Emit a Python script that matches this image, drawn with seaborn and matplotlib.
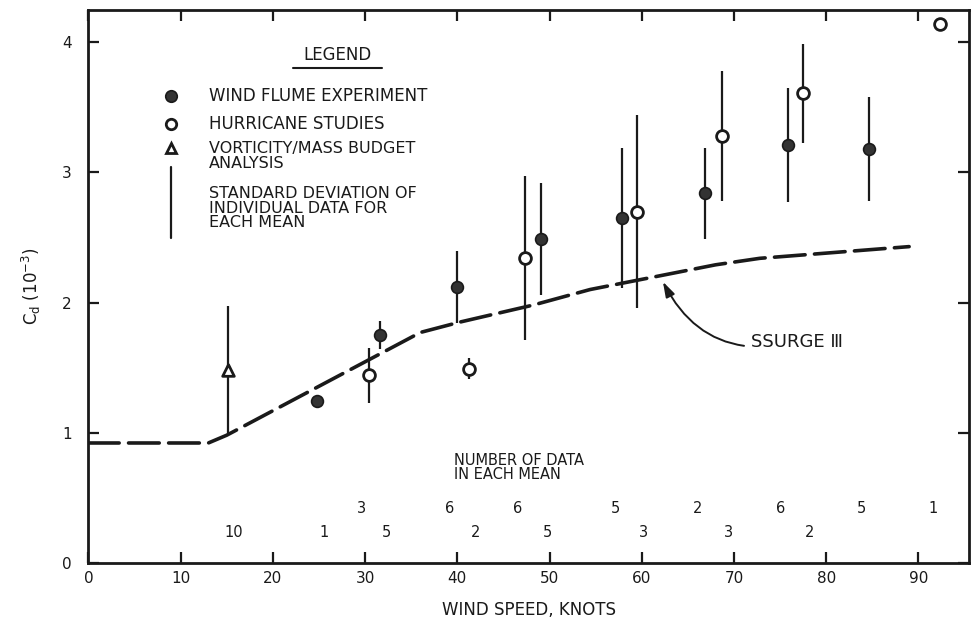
import numpy as np
import pandas as pd
import matplotlib
matplotlib.use("Agg")
import matplotlib.pyplot as plt
import seaborn as sns

# Mean drag coefficient per wind-speed bin
wind_speed = [15.1, 24.8, 30.4, 31.6, 40.0, 41.3, 47.3, 49.1,
              57.9, 59.5, 66.9, 68.7, 75.9, 77.5, 84.6, 92.4]
cd_mean = [1.48, 1.24, 1.44, 1.75, 2.12, 1.49, 2.34, 2.49,
           2.65, 2.70, 2.84, 3.28, 3.21, 3.61, 3.18, 4.14]
cd_std = [0.49, 0.0, 0.21, 0.11, 0.28, 0.08, 0.63, 0.43,
          0.54, 0.74, 0.35, 0.50, 0.44, 0.38, 0.40, 0.0]
n_data = [10, 1, 3, 5, 6, 2, 6, 5, 5, 3, 2, 3, 6, 2, 5, 1]
source = ["vorticity", "flume", "hurricane", "flume", "flume", "hurricane",
          "hurricane", "flume", "flume", "hurricane", "flume", "hurricane",
          "flume", "hurricane", "flume", "hurricane"]
count_row = ["low", "low", "up", "low", "up", "low", "up", "low",
             "up", "low", "up", "low", "up", "low", "up", "up"]

# SSURGE III drag-coefficient formulation
ssurge_speed = [0, 13, 15, 36, 40.3, 48.2, 54.4, 58.7, 68, 72.8, 80, 89]
ssurge_cd = [0.92, 0.92, 0.98, 1.77, 1.85, 1.98, 2.10, 2.16, 2.29, 2.34, 2.38, 2.43]

x_ticks = [0, 10, 20, 30, 40, 50, 60, 70, 80, 90]
y_ticks = [0, 1, 2, 3, 4]

df = pd.DataFrame({"wind": wind_speed, "cd": cd_mean, "sd": cd_std,
                   "n": n_data, "source": source, "row": count_row})

sns.set_theme(style="ticks")
plt.rcParams["font.family"] = ["DejaVu Sans"]
plt.rcParams["mathtext.fontset"] = "dejavusans"

fig, ax = plt.subplots(figsize=(9.71, 6.21), dpi=100)
fig.subplots_adjust(left=0.0911, right=0.998, bottom=0.094, top=0.984)

ink = "#1a1a1a"

# SSURGE III curve
sns.lineplot(x=ssurge_speed, y=ssurge_cd, ax=ax, color=ink, lw=2.6,
             linestyle=(0, (8.5, 2.6)), dash_capstyle="round",
             sort=False, estimator=None, zorder=2)

# standard-deviation bars
bars = df[df["sd"] > 0]
ax.vlines(bars["wind"], bars["cd"] - bars["sd"], bars["cd"] + bars["sd"],
          color=ink, lw=1.6, zorder=3)

# means by source
sns.scatterplot(data=df[df["source"] == "flume"], x="wind", y="cd", ax=ax,
                marker="o", s=72, color="#333333", edgecolor=ink,
                linewidth=1.2, zorder=4, legend=False)
sns.scatterplot(data=df[df["source"] == "hurricane"], x="wind", y="cd", ax=ax,
                marker="o", s=72, color="white", edgecolor=ink,
                linewidth=2.0, zorder=4, legend=False)
sns.scatterplot(data=df[df["source"] == "vorticity"], x="wind", y="cd", ax=ax,
                marker="^", s=70, color="white", edgecolor=ink,
                linewidth=2.0, zorder=4, legend=False)

# number of data in each mean
row_y = {"up": 0.42, "low": 0.23}
row_shift = {"up": -0.8, "low": 0.7}
for _, r in df.iterrows():
    ax.text(r["wind"] + row_shift[r["row"]], row_y[r["row"]], str(r["n"]),
            ha="center", va="center", fontsize=10.5, color=ink)
ax.text(39.6, 0.73, "NUMBER OF DATA\nIN EACH MEAN", ha="left", va="center",
        fontsize=10.5, color=ink, linespacing=0.95)

# key
ax.text(27.0, 3.905, "LEGEND", ha="center", va="center", fontsize=12, color=ink)
ax.plot([22.2, 31.8], [3.80, 3.80], color=ink, lw=1.5)
key_x, text_x = 8.95, 13.1
ax.plot([key_x], [3.585], marker="o", ms=8.3, color="#333333",
        mec=ink, mew=1.2, ls="none")
ax.plot([key_x], [3.375], marker="o", ms=7.5, color="white",
        mec=ink, mew=2.0, ls="none")
ax.plot([key_x], [3.19], marker="^", ms=7.0, color="white",
        mec=ink, mew=2.0, ls="none")
ax.plot([key_x + 0.05, key_x + 0.05], [2.495, 3.046], color=ink, lw=1.6)
ax.text(text_x, 3.585, "WIND FLUME EXPERIMENT", ha="left", va="center",
        fontsize=12, color=ink)
ax.text(text_x, 3.375, "HURRICANE STUDIES", ha="left", va="center",
        fontsize=12, color=ink)
ax.text(text_x, 3.245, "VORTICITY/MASS BUDGET\nANALYSIS", ha="left", va="top",
        fontsize=11.5, color=ink, linespacing=1.05)
ax.text(text_x, 2.895, "STANDARD DEVIATION OF\nINDIVIDUAL DATA FOR\nEACH MEAN",
        ha="left", va="top", fontsize=11.5, color=ink, linespacing=0.97)

# curve label
ax.annotate("SSURGE \u2162", xy=(62.3, 2.16), xytext=(71.9, 1.70),
            ha="left", va="center", fontsize=13, color=ink,
            arrowprops=dict(arrowstyle="-|>,head_length=0.7,head_width=0.22",
                            connectionstyle="arc3,rad=-0.4",
                            color=ink, lw=1.4, shrinkA=3, shrinkB=0))

ax.set_xlim(0, 95.5)
ax.set_ylim(0, 4.25)
ax.set_xticks(x_ticks)
ax.set_yticks(y_ticks)
ax.set_xticklabels([str(v) for v in x_ticks])
ax.set_yticklabels([str(v) for v in y_ticks])
ax.tick_params(axis="both", direction="in", top=True, right=True,
               length=8, width=1.6, color=ink, labelsize=11, labelcolor=ink)
ax.tick_params(axis="x", pad=6)
ax.tick_params(axis="y", pad=12)
for side in ["left", "right", "top", "bottom"]:
    ax.spines[side].set_linewidth(2.0)
    ax.spines[side].set_color(ink)

ax.set_xlabel("WIND SPEED, KNOTS", fontsize=12, color=ink, labelpad=11)
ax.set_ylabel(r"C$_\mathrm{d}$ (10$^{-3}$)", fontsize=12, color=ink, labelpad=14)

fig.savefig("out.png", dpi=100)
